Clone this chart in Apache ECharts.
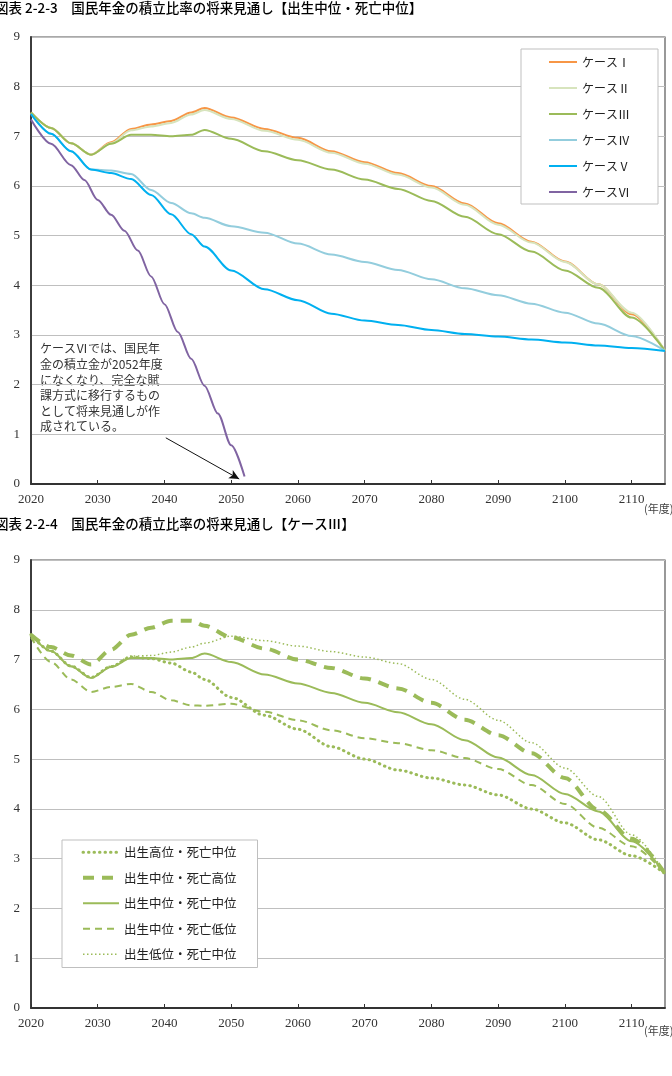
<!DOCTYPE html>
<html>
<head>
<meta charset="utf-8">
<script src="https://cdn.jsdelivr.net/npm/echarts@6/dist/echarts.min.js"></script>
<style>
html, body { margin: 0; padding: 0; background: #fff; }
#chart { width: 672px; height: 1076px; }
</style>
</head>
<body>
<div id="chart"></div>
<script>
// 年度
const years = [2020, 2023, 2026, 2029, 2032, 2035, 2038, 2041, 2044, 2046, 2050, 2055, 2060, 2065, 2070, 2075, 2080, 2085, 2090, 2095, 2100, 2105, 2110, 2115];
const years6 = [2020, 2023, 2026, 2028, 2030, 2032, 2034, 2036, 2038, 2040, 2042, 2044, 2046, 2048, 2050, 2052];

// 図表2-2-3 出生中位・死亡中位
const case1 = [7.48, 7.17, 6.86, 6.63, 6.88, 7.15, 7.24, 7.31, 7.48, 7.57, 7.38, 7.15, 6.97, 6.70, 6.48, 6.26, 6.00, 5.65, 5.25, 4.88, 4.48, 4.02, 3.42, 2.68];
const case2 = [7.48, 7.17, 6.86, 6.63, 6.86, 7.12, 7.20, 7.27, 7.44, 7.53, 7.35, 7.11, 6.93, 6.67, 6.45, 6.23, 5.97, 5.62, 5.22, 4.86, 4.47, 4.02, 3.45, 2.68];
const case3 = [7.48, 7.17, 6.86, 6.63, 6.85, 7.03, 7.03, 7.00, 7.03, 7.13, 6.95, 6.70, 6.52, 6.33, 6.13, 5.94, 5.70, 5.38, 5.03, 4.68, 4.30, 3.95, 3.35, 2.68];
const case4 = [7.45, 7.05, 6.70, 6.33, 6.31, 6.24, 5.92, 5.66, 5.45, 5.36, 5.19, 5.06, 4.84, 4.62, 4.47, 4.31, 4.12, 3.94, 3.80, 3.63, 3.45, 3.23, 2.98, 2.68];
const case5 = [7.45, 7.05, 6.70, 6.33, 6.26, 6.14, 5.82, 5.43, 5.03, 4.78, 4.30, 3.92, 3.70, 3.43, 3.29, 3.20, 3.10, 3.02, 2.97, 2.91, 2.85, 2.79, 2.74, 2.68];
const case6 = [7.34, 6.85, 6.42, 6.12, 5.72, 5.42, 5.10, 4.70, 4.18, 3.62, 3.06, 2.52, 1.98, 1.42, 0.78, 0.15];

// 図表2-2-4 ケースⅢ
const birthHigh = [7.50, 7.17, 6.87, 6.64, 6.86, 7.05, 7.02, 6.93, 6.75, 6.60, 6.24, 5.88, 5.60, 5.25, 5.00, 4.78, 4.62, 4.48, 4.28, 4.00, 3.72, 3.38, 3.06, 2.70];
const deathHigh = [7.50, 7.25, 7.08, 6.90, 7.20, 7.50, 7.64, 7.78, 7.78, 7.68, 7.45, 7.22, 7.00, 6.83, 6.62, 6.42, 6.13, 5.79, 5.48, 5.12, 4.62, 3.98, 3.40, 2.70];
const middle = [7.49, 7.17, 6.86, 6.63, 6.85, 7.03, 7.03, 7.00, 7.03, 7.12, 6.95, 6.70, 6.52, 6.33, 6.13, 5.94, 5.70, 5.38, 5.03, 4.68, 4.30, 3.95, 3.35, 2.70];
const deathLow = [7.45, 6.95, 6.60, 6.35, 6.45, 6.51, 6.35, 6.18, 6.08, 6.07, 6.11, 5.95, 5.78, 5.58, 5.42, 5.32, 5.18, 5.02, 4.80, 4.48, 4.10, 3.62, 3.25, 2.70];
const birthLow = [7.50, 7.17, 6.87, 6.64, 6.87, 7.07, 7.08, 7.15, 7.25, 7.33, 7.47, 7.38, 7.27, 7.16, 7.05, 6.92, 6.60, 6.20, 5.78, 5.33, 4.82, 4.25, 3.48, 2.70];

const names1 = ['ケースⅠ', 'ケースⅡ', 'ケースⅢ', 'ケースⅣ', 'ケースⅤ', 'ケースⅥ'];
const names2 = ['出生高位・死亡中位', '出生中位・死亡高位', '出生中位・死亡中位', '出生中位・死亡低位', '出生低位・死亡中位'];

const pair = (xs, ys) => xs.map((x, i) => [x, ys[i]]);

const serif = '"Liberation Serif", "DejaVu Serif", serif';
const jp = '"Noto Sans CJK JP", sans-serif';
const green = '#9BBB59';

// 線種 (ケースⅢの図)
const styles2 = [
    { color: green, width: 3, type: [0.5, 5], cap: 'round' },
    { color: green, width: 4, type: [11, 8] },
    { color: green, width: 2 },
    { color: green, width: 2, type: [7, 5] },
    { color: green, width: 1.5, type: [1.5, 2.5] }
];

let Mycharts = echarts.init(document.getElementById('chart'));

const makeX = (gi) => ({
    type: 'value',
    gridIndex: gi,
    min: 2020,
    max: 2115,
    interval: 10,
    axisLine: { show: true, lineStyle: { color: '#333', width: 1.8 } },
    axisTick: { show: true, inside: true, length: 4, lineStyle: { color: '#333' } },
    axisLabel: { color: '#333', fontFamily: serif, fontSize: 13, margin: 9, showMaxLabel: false, formatter: (v) => String(v) },
    splitLine: { show: false }
});
const makeY = (gi) => ({
    type: 'value',
    gridIndex: gi,
    min: 0,
    max: 9,
    interval: 1,
    axisLine: { show: true, lineStyle: { color: '#333', width: 1.8 } },
    axisTick: { show: false },
    axisLabel: { color: '#333', fontFamily: serif, fontSize: 13, margin: 11 },
    splitLine: { show: true, lineStyle: { color: '#BFBFBF', width: 1.2 } }
});

const line = (name, xs, ys, color, gi, extra) => Object.assign({
    name: name,
    type: 'line',
    xAxisIndex: gi,
    yAxisIndex: gi,
    data: pair(xs, ys),
    symbol: 'none',
    smooth: 0.3,
    smoothMonotone: 'x',
    silent: true,
    animation: false,
    itemStyle: { color: color },
    lineStyle: { color: color, width: 2 }
}, extra || {});

const legendBase = {
    orient: 'vertical',
    itemHeight: 14,
    backgroundColor: '#fff',
    borderColor: '#BFBFBF',
    borderWidth: 1,
    selectedMode: false,
    itemStyle: { opacity: 0 }
};

let option = {
    animation: false,
    grid: [
        { left: 31, top: 37, width: 634, height: 447, show: true, borderColor: '#555', borderWidth: 1.2 },
        { left: 31, top: 560, width: 634, height: 448, show: true, borderColor: '#555', borderWidth: 1.2 }
    ],
    xAxis: [makeX(0), makeX(1)],
    yAxis: [makeY(0), makeY(1)],
    legend: [
        Object.assign({}, legendBase, {
            data: names1,
            left: 521,
            top: 49,
            padding: [7, 28, 6, 27],
            itemWidth: 28,
            itemGap: 14,
            textStyle: { fontFamily: jp, fontSize: 12, color: '#222' }
        }),
        Object.assign({}, legendBase, {
            data: names2.map((n, i) => ({ name: n, lineStyle: styles2[i] })),
            left: 62,
            top: 840,
            padding: [6, 21, 7, 19],
            itemWidth: 36,
            itemGap: 13,
            textStyle: { fontFamily: jp, fontSize: 12.5, color: '#222' }
        })
    ],
    graphic: [
        { type: 'text', left: -5, top: 1, style: { text: '図表 2-2-3　国民年金の積立比率の将来見通し【出生中位・死亡中位】', font: '500 13.5px "Noto Sans CJK JP"', fill: '#000' } },
        { type: 'text', left: -5, top: 517, style: { text: '図表 2-2-4　国民年金の積立比率の将来見通し【ケースⅢ】', font: '500 13.5px "Noto Sans CJK JP"', fill: '#000' } },
        { type: 'text', left: 644, top: 503, style: { text: '(年度)', font: '11px "Noto Sans CJK JP"', fill: '#444' } },
        { type: 'text', left: 644, top: 1025, style: { text: '(年度)', font: '11px "Noto Sans CJK JP"', fill: '#444' } },
        {
            type: 'text', left: 40, top: 341,
            style: {
                text: 'ケースⅥでは、国民年\n金の積立金が2052年度\nになくなり、完全な賦\n課方式に移行するもの\nとして将来見通しが作\n成されている。',
                font: '12px "Noto Sans CJK JP"', fill: '#333', lineHeight: 15.6
            }
        }
    ],
    series: [
        line(names1[0], years, case1, '#F79646', 0),
        line(names1[1], years, case2, '#D7E4BD', 0),
        line(names1[2], years, case3, green, 0),
        line(names1[3], years, case4, '#93CDDD', 0),
        line(names1[4], years, case5, '#00B0F0', 0),
        line(names1[5], years6, case6, '#8064A2', 0, {
            markLine: {
                silent: true,
                symbol: ['none', 'arrow'],
                symbolSize: [7, 10],
                label: { show: false },
                lineStyle: { color: '#111', width: 1, type: 'solid' },
                data: [[{ coord: [2040.2, 0.93] }, { coord: [2051.2, 0.1] }]]
            }
        }),
        line(names2[0], years, birthHigh, green, 1, { lineStyle: styles2[0] }),
        line(names2[1], years, deathHigh, green, 1, { lineStyle: styles2[1] }),
        line(names2[2], years, middle, green, 1, { lineStyle: styles2[2] }),
        line(names2[3], years, deathLow, green, 1, { lineStyle: styles2[3] }),
        line(names2[4], years, birthLow, green, 1, { lineStyle: styles2[4] })
    ]
};

Mycharts.setOption(option);
</script>
</body>
</html>
